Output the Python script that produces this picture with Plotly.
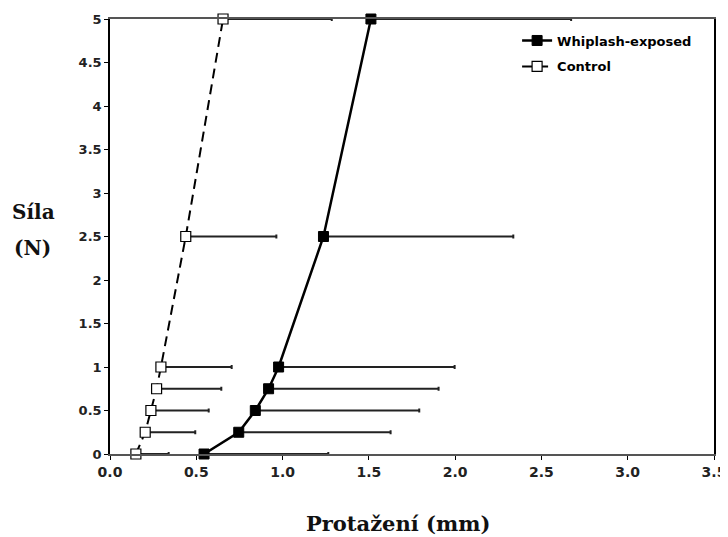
import plotly.graph_objects as go

force = [0, 0.25, 0.5, 0.75, 1, 2.5, 5]
whip_mean = [0.545, 0.746, 0.842, 0.919, 0.977, 1.237, 1.512]
whip_err = [0.72, 0.88, 0.95, 0.985, 1.02, 1.10, 1.16]
ctrl_mean = [0.150, 0.204, 0.237, 0.270, 0.295, 0.439, 0.655]
ctrl_err = [0.19, 0.29, 0.335, 0.375, 0.41, 0.525, 0.63]
x_ticks = [0, 0.5, 1.0, 1.5, 2.0, 2.5, 3.0, 3.5]
y_ticks = [0, 0.5, 1, 1.5, 2, 2.5, 3, 3.5, 4, 4.5, 5]

fig = go.Figure()
fig.add_trace(go.Scatter(
    x=whip_mean, y=force, mode="lines+markers", name="Whiplash-exposed",
    legendgroup="w", cliponaxis=False,
    line=dict(color="black", width=2.5),
    marker=dict(symbol="square", size=10, color="black", line=dict(color="black", width=1)),
    error_x=dict(type="data", array=whip_err, arrayminus=[0]*len(whip_err), symmetric=False,
                 color="#222", thickness=2, width=2),
))
fig.add_trace(go.Scatter(
    x=ctrl_mean, y=force, mode="lines+markers", name="Control",
    legendgroup="c", cliponaxis=False,
    line=dict(color="black", width=2, dash="10px,6px"),
    marker=dict(symbol="square", size=10, color="white", line=dict(color="black", width=1.2)),
    error_x=dict(type="data", array=ctrl_err, arrayminus=[0]*len(ctrl_err), symmetric=False,
                 color="#222", thickness=2, width=2),
))

sans = "DejaVu Sans, Verdana, sans-serif"
serif = "DejaVu Serif, Georgia, serif"
fig.update_layout(
    width=720, height=529,
    margin=dict(l=102, r=14, t=11, b=83, autoexpand=False),
    plot_bgcolor="white", paper_bgcolor="white",
    showlegend=True,
    legend=dict(x=0.674, y=0.985, xanchor="left", yanchor="top",
                font=dict(family=sans, size=13, color="black", weight="bold"),
                bgcolor="rgba(0,0,0,0)", traceorder="grouped", tracegroupgap=6, itemwidth=30),
    xaxis=dict(range=[0, 3.5], tickvals=x_ticks, tickformat=".1f", ticks="outside",
               ticklen=4, tickcolor="black", showgrid=False, zeroline=False,
               showline=True, linecolor="#555", linewidth=1.5, mirror=True, automargin=False,
               ticklabeloverflow="allow",
               tickfont=dict(family=sans, size=14, color="#222", weight="bold")),
    yaxis=dict(range=[0, 5], tickvals=y_ticks, ticks="outside", ticklen=4,
               tickcolor="black", showgrid=False, zeroline=False,
               showline=True, linecolor="black", linewidth=1.5, mirror=True, automargin=False,
               ticklabeloverflow="allow",
               tickfont=dict(family=sans, size=13, color="#222", weight="bold")),
    annotations=[
        dict(text="Protažení (mm)", xref="paper", yref="paper", x=0.476, y=-0.159,
             xanchor="center", yanchor="middle", showarrow=False,
             font=dict(family=serif, size=21, color="#111", weight="bold")),
        dict(text="Síla", xref="paper", yref="paper", x=-0.127, y=0.556,
             xanchor="center", yanchor="middle", showarrow=False,
             font=dict(family=serif, size=20, color="#111", weight="bold")),
        dict(text="(N)", xref="paper", yref="paper", x=-0.129, y=0.474,
             xanchor="center", yanchor="middle", showarrow=False,
             font=dict(family=serif, size=20, color="#111", weight="bold")),
    ],
)
fig.write_html("out.html")
